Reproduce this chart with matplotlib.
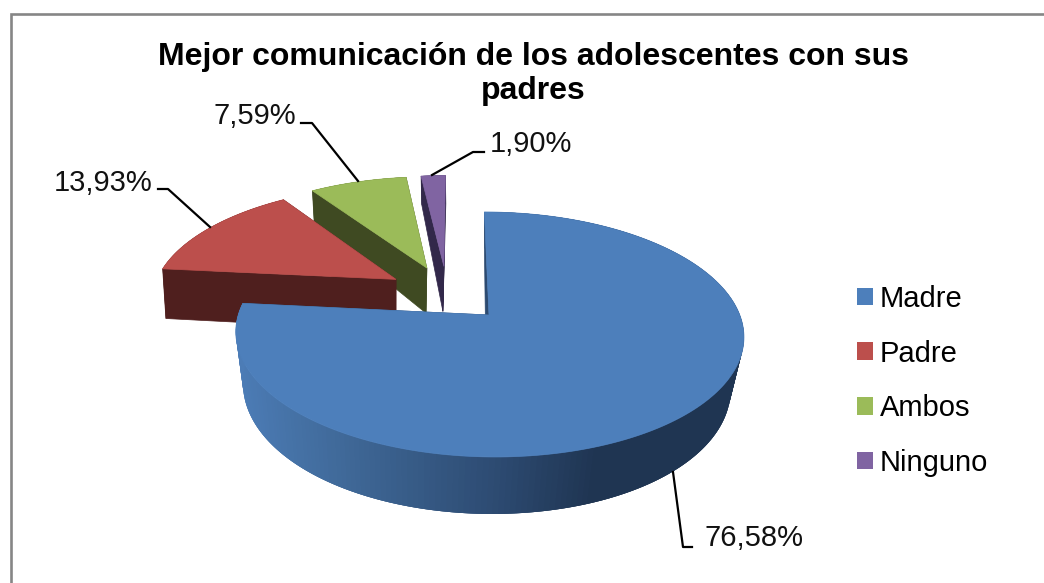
import numpy as np
import matplotlib
matplotlib.use("Agg")
import matplotlib.pyplot as plt
from matplotlib.patches import Polygon, Patch
from matplotlib.lines import Line2D

# ---- data -------------------------------------------------------------
title = "Mejor comunicación de los adolescentes con sus\npadres"
categories = ["Madre", "Padre", "Ambos", "Ninguno"]
values = [76.58, 13.93, 7.59, 1.90]
value_labels = ["76,58%", "13,93%", "7,59%", "1,90%"]

# ---- style ------------------------------------------------------------
top_colors = ["#4D7FBB", "#BC4F4C", "#9BBB59", "#8064A2"]
side_colors = ["#2C4A70", "#4F1F1E", "#3F4A22", "#32284A"]
FONT = "Liberation Sans"
W, H = 1044, 583

# ---- projection (oblique 3D pie with perspective) ---------------------
APEX_X, APEX_Y = 489.0, 315.0
A, B, K = 250.8, 119.4, 0.159
SHEAR = -0.045
EXPLODE = 0.25


def depth(v):
    return 50 - 10.3 * v - 3.3 * v * v


def top_pt(u, v):
    den = 1 + K * v
    y = B * v / den
    x = A * u / den + SHEAR * y
    return APEX_X + x, APEX_Y - y


def bottom_pt(u, v, extra=1.0):
    x, y = top_pt(u, v)
    f = min(0.99, 0.96 + 0.06 * max(v, 0))
    drift = 3 * (1 - min(max(v, 0), 1))
    return APEX_X + (x - APEX_X) * f - drift, y + depth(v) * extra


def lerp_color(t, stops):
    xs = [s[0] for s in stops]
    rgb = np.array([matplotlib.colors.to_rgb(s[1]) for s in stops])
    return tuple(np.interp(t, xs, rgb[:, i]) for i in range(3))


blue_stops = [(237, "#4C7CB6"), (350, "#3F6897"), (500, "#2D4B72"),
              (600, "#1F3552"), (750, "#1F3552")]

fig = plt.figure(figsize=(W / 100, H / 100), dpi=100)
ax = fig.add_axes([0, 0, 1, 1])
ax.set_xlim(0, W)
ax.set_ylim(H, 0)
ax.axis("off")

# outer chart frame
ax.plot([10.5, 10.5, W + 5], [H + 5, 13.5, 13.5], color="#868686", lw=1.9,
        solid_joinstyle="miter", zorder=1)

# slice geometry from the values (clockwise from 12 o'clock)
fracs = np.array(values) / sum(values)
ends = np.cumsum(fracs) * 2 * np.pi
starts = ends - fracs * 2 * np.pi
mid0 = (starts[0] + ends[0]) / 2
base_u = -EXPLODE * np.sin(mid0)
base_v = -EXPLODE * np.cos(mid0)

extras = [1.0, 1.1, 1.0, 1.0]
order = [3, 2, 1, 0]
for i in order:
    mid = (starts[i] + ends[i]) / 2
    cu = base_u + EXPLODE * np.sin(mid)
    cv = base_v + EXPLODE * np.cos(mid)
    th = np.linspace(starts[i], ends[i], 240)
    ru = cu + np.sin(th)
    rv = cv + np.cos(th)
    z = 10 + (3 - i) * 3
    rim_top = np.array([top_pt(a, b) for a, b in zip(ru, rv)])
    rim_bot = np.array([bottom_pt(a, b, extras[i]) for a, b in zip(ru, rv)])
    apex_t = top_pt(cu, cv)
    apex_b = bottom_pt(cu, cv, extras[i])

    # radial cut faces
    for k in (0, -1):
        ax.add_patch(Polygon([apex_t, rim_top[k], rim_bot[k], apex_b], closed=True,
                             fc=side_colors[i], ec=side_colors[i], lw=0.5, zorder=z))
    # outer wall: overlapping strips so no seams show
    n = len(th)
    for k in range(n - 1):
        j = min(k + 3, n - 1)
        col = lerp_color(rim_top[k, 0], blue_stops) if i == 0 else side_colors[i]
        ax.add_patch(Polygon([rim_top[k], rim_top[j], rim_bot[j], rim_bot[k]],
                             closed=True, fc=col, ec="none", zorder=z))
    # top face
    ax.add_patch(Polygon(np.vstack([[apex_t], rim_top]), closed=True,
                         fc=top_colors[i], ec=top_colors[i], lw=0.5, zorder=z + 1))

# leader lines and value labels
leaders = [([673, 683, 692], [472, 547, 547]),
           ([210, 168, 158], [227, 189, 189]),
           ([358, 312, 301], [181, 123, 123]),
           ([432, 473, 484], [175, 152, 152])]
label_pos = [(705, 538, "left"), (152, 183, "right"), (296, 116, "right"), (490, 144, "left")]
for i in range(4):
    ax.add_line(Line2D(*leaders[i], color="black", lw=1.6, zorder=30))
    x, y, ha = label_pos[i]
    ax.text(x, y, value_labels[i], ha=ha, va="center", family=FONT, fontsize=21.0,
            color="#111111", zorder=31)

# title
ax.text(533, 74, title, ha="center", va="center", family=FONT, fontsize=23,
        fontweight="bold", color="black", linespacing=1.2, zorder=31)

# legend
handles = [Patch(fc=c, ec=c, lw=0) for c in top_colors]
leg = ax.legend(handles, categories, loc="upper left", bbox_to_anchor=(857 / W, 1 - 285 / H),
                bbox_transform=fig.transFigure, frameon=False, borderpad=0, borderaxespad=0,
                prop={"family": FONT, "size": 21.0}, handlelength=0.55, handleheight=0.55,
                handletextpad=0.22, labelspacing=0.91)
leg.set_zorder(31)

fig.savefig("out.png", dpi=100, facecolor="white")
